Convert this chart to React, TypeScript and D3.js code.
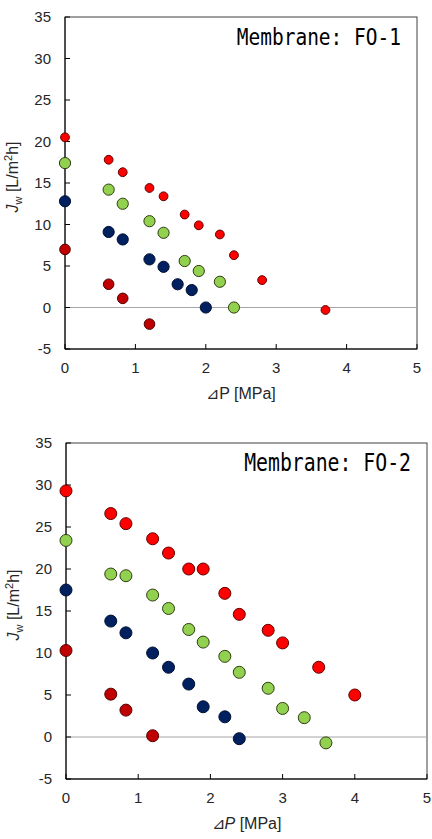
import React from 'react';
import * as d3 from 'd3';

// FO-1 membrane
const dp1Red = [0, 0.62, 0.82, 1.2, 1.4, 1.7, 1.9, 2.2, 2.4, 2.8, 3.7];
const jw1Red = [20.5, 17.8, 16.3, 14.4, 13.4, 11.2, 9.9, 8.8, 6.3, 3.3, -0.3];
const dp1Green = [0, 0.62, 0.82, 1.2, 1.4, 1.7, 1.9, 2.2, 2.4];
const jw1Green = [17.4, 14.2, 12.5, 10.4, 9.0, 5.6, 4.4, 3.1, 0.0];
const dp1Navy = [0, 0.62, 0.82, 1.2, 1.4, 1.6, 1.8, 2.0];
const jw1Navy = [12.8, 9.1, 8.2, 5.8, 4.9, 2.8, 2.1, 0.0];
const dp1DarkRed = [0, 0.62, 0.82, 1.2];
const jw1DarkRed = [7.0, 2.8, 1.1, -2.0];

// FO-2 membrane
const dp2Red = [0, 0.62, 0.83, 1.2, 1.42, 1.7, 1.9, 2.2, 2.4, 2.8, 3.0, 3.5, 4.0];
const jw2Red = [29.3, 26.6, 25.4, 23.6, 21.9, 20.0, 20.0, 17.1, 14.6, 12.7, 11.2, 8.3, 5.0];
const dp2Green = [0, 0.62, 0.83, 1.2, 1.42, 1.7, 1.9, 2.2, 2.4, 2.8, 3.0, 3.3, 3.6];
const jw2Green = [23.4, 19.4, 19.2, 16.9, 15.3, 12.8, 11.3, 9.6, 7.7, 5.8, 3.4, 2.3, -0.7];
const dp2Navy = [0, 0.62, 0.83, 1.2, 1.42, 1.7, 1.9, 2.2, 2.4];
const jw2Navy = [17.5, 13.8, 12.4, 10.0, 8.3, 6.3, 3.6, 2.4, -0.2];
const dp2DarkRed = [0, 0.62, 0.83, 1.2];
const jw2DarkRed = [10.3, 5.1, 3.2, 0.15];

const xTicks = [0, 1, 2, 3, 4, 5];
const yTicks = [-5, 0, 5, 10, 15, 20, 25, 30, 35];

const zip = (xs: number[], ys: number[]) => xs.map((x, i) => ({ x, y: ys[i] }));

type Series = { pts: { x: number; y: number }[]; fill: string; stroke: string; r: number };

const FONT = '"Liberation Sans", Arial, sans-serif';

const Chart = ({ box, series, title, titleSize, titleScale, titleY, italicP }: any) => {
  const x = d3.scaleLinear().domain([0, 5]).range([box.left, box.right]);
  const y = d3.scaleLinear().domain([-5, 35]).range([box.bottom, box.top]);
  const cx = (box.left + box.right) / 2;
  const cy = (box.top + box.bottom) / 2;

  return (
    <g>
      {/* frame */}
      <rect x={box.left} y={box.top} width={box.right - box.left} height={box.bottom - box.top}
        fill="none" stroke="#404040" strokeWidth={1} />
      {/* zero line */}
      <line x1={x(0)} x2={x(5)} y1={y(0)} y2={y(0)} stroke="#a6a6a6" strokeWidth={1} />
      <line x1={box.left} x2={box.left} y1={box.top} y2={box.bottom} stroke="#000" />
      <line x1={box.left} x2={box.right} y1={box.bottom} y2={box.bottom} stroke="#000" />

      {yTicks.map(t => (
        <g key={'y' + t}>
          <line x1={box.left} x2={box.left + 5} y1={y(t)} y2={y(t)} stroke="#000" />
          <text x={box.left - 14} y={y(t)} dy="0.35em" textAnchor="end" fontSize={15}
            fontFamily={FONT} fill="#262626">{t}</text>
        </g>
      ))}
      {xTicks.map(t => (
        <g key={'x' + t}>
          <line x1={x(t)} x2={x(t)} y1={box.bottom} y2={box.bottom - 5} stroke="#000" />
          <text x={x(t)} y={box.bottom + 19} dy="0.35em" textAnchor="middle" fontSize={15}
            fontFamily={FONT} fill="#262626">{t}</text>
        </g>
      ))}

      <text x={cx} y={box.bottom + 44} dy="0.35em" textAnchor="middle" fontSize={16}
        fontFamily={FONT} fill="#262626">
        ⊿<tspan fontStyle={italicP ? 'italic' : 'normal'}>P</tspan> [MPa]
      </text>

      <text transform={`translate(${box.left - 47}, ${cy - 6}) rotate(-90)`} textAnchor="middle"
        fontSize={16} fontFamily={FONT} fill="#262626">
        <tspan fontStyle="italic">J</tspan>
        <tspan fontSize={11} dy="4">w</tspan>
        <tspan dy="-4"> [L/m</tspan>
        <tspan fontSize={11} dy="-6">2</tspan>
        <tspan dy="6">h]</tspan>
      </text>

      <text transform={`translate(${box.right - 16}, ${box.top + titleY}) scale(1, ${titleScale})`}
        textAnchor="end" fontSize={titleSize}
        fontFamily='"DejaVu Sans Mono", "Liberation Mono", monospace' fill="#000">{title}</text>

      {series.map((s: Series, i: number) => (
        <g key={i}>
          {s.pts.map((p, j) => (
            <circle key={j} cx={x(p.x)} cy={y(p.y)} r={s.r} fill={s.fill} stroke={s.stroke} strokeWidth={1} />
          ))}
        </g>
      ))}
    </g>
  );
};

export default function App() {
  const series1: Series[] = [
    { pts: zip(dp1Red, jw1Red), fill: '#ff0000', stroke: '#600000', r: 4.4 },
    { pts: zip(dp1Green, jw1Green), fill: '#92d050', stroke: '#2e3d10', r: 5.6 },
    { pts: zip(dp1Navy, jw1Navy), fill: '#002060', stroke: '#001030', r: 5.6 },
    { pts: zip(dp1DarkRed, jw1DarkRed), fill: '#c00000', stroke: '#500000', r: 5.3 },
  ];
  const series2: Series[] = [
    { pts: zip(dp2Red, jw2Red), fill: '#ff0000', stroke: '#600000', r: 6 },
    { pts: zip(dp2Green, jw2Green), fill: '#92d050', stroke: '#2e3d10', r: 6 },
    { pts: zip(dp2Navy, jw2Navy), fill: '#002060', stroke: '#001030', r: 6 },
    { pts: zip(dp2DarkRed, jw2DarkRed), fill: '#c00000', stroke: '#500000', r: 6 },
  ];
  return (
    <div style={{ position: 'absolute', left: 0, top: 0 }}>
      <svg width={432} height={839} style={{ display: 'block', background: '#fff' }}>
        <Chart box={{ left: 65, right: 417, top: 17, bottom: 349 }} series={series1}
          title="Membrane: FO-1" titleSize={19.5} titleScale={1.15} titleY={28} italicP={false} />
        <Chart box={{ left: 66, right: 427, top: 443, bottom: 779 }} series={series2}
          title="Membrane: FO-2" titleSize={19.8} titleScale={1.25} titleY={28} italicP={true} />
      </svg>
    </div>
  );
}
